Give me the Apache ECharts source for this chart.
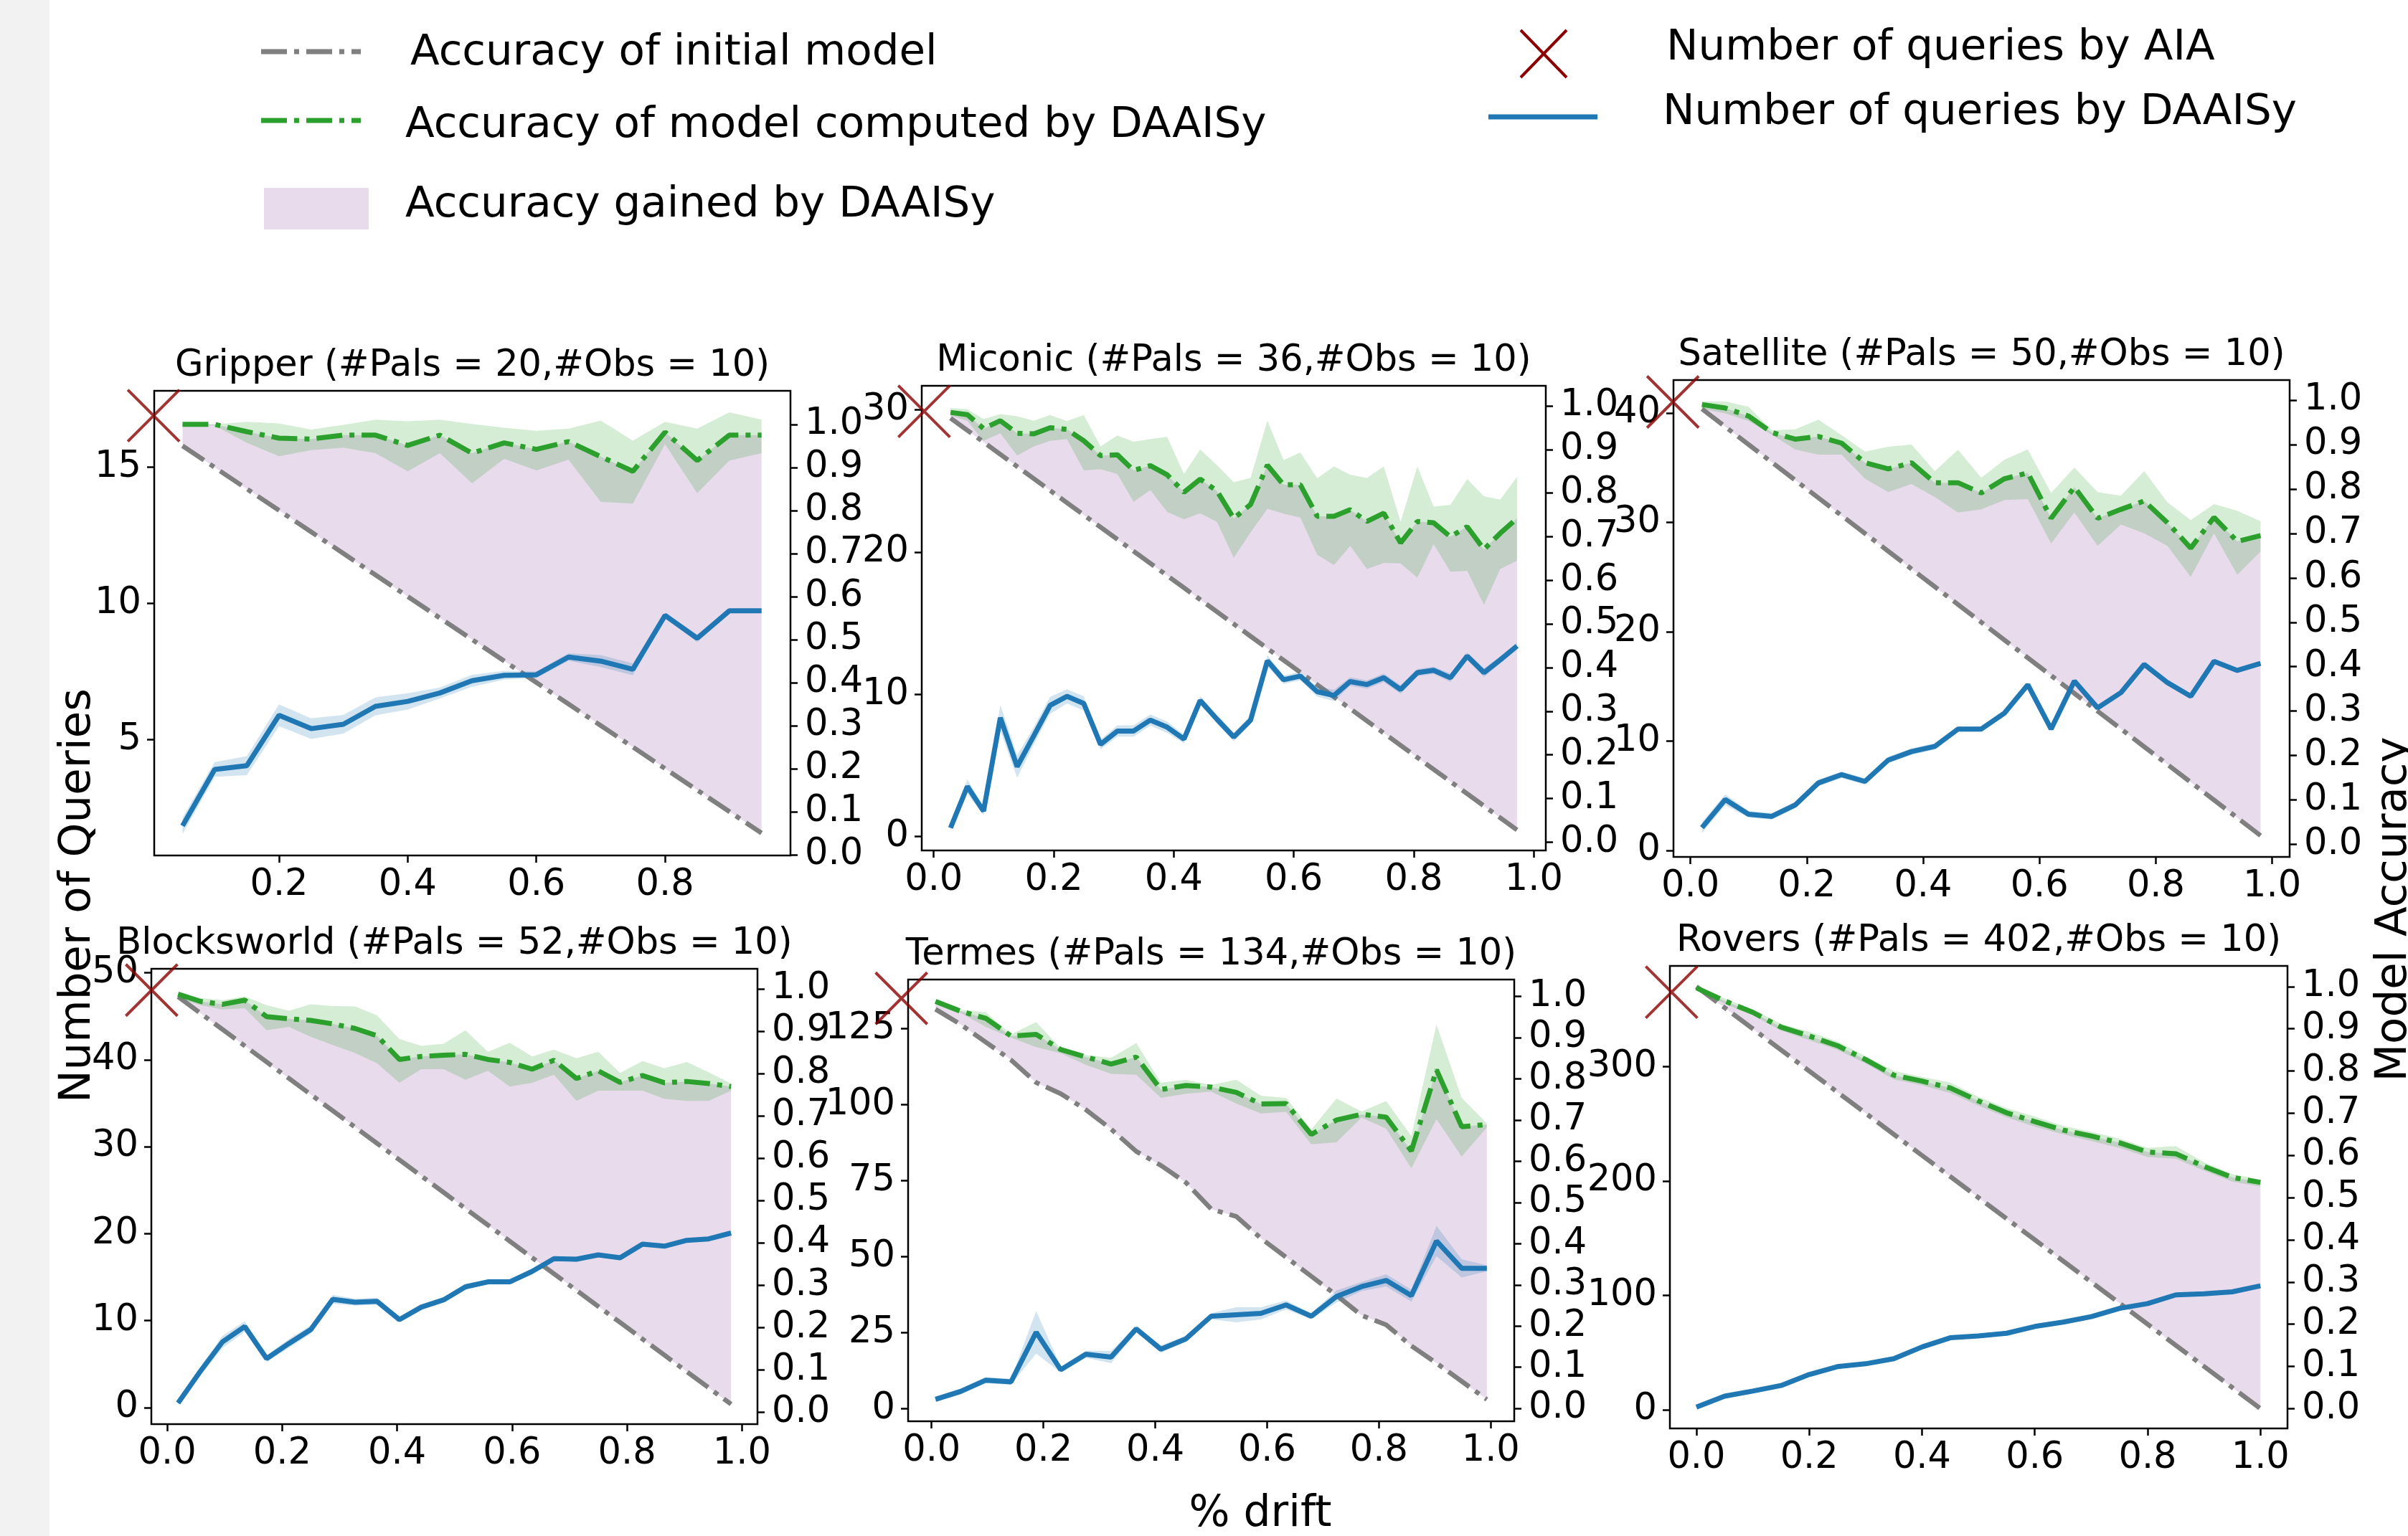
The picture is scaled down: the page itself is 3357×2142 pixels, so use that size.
<!DOCTYPE html>
<html>
<head>
<meta charset="utf-8">
<script src="https://cdn.jsdelivr.net/npm/echarts@6/dist/echarts.min.js"></script>
<style>
html, body { margin: 0; padding: 0; background: #fff; }
#chart { width: 3357px; height: 2142px; }
</style>
</head>
<body>
<div id="chart"></div>
<script>
// ---- data ----
// Gripper
var gripX = [0.05, 0.1, 0.15, 0.2, 0.25, 0.3, 0.35, 0.4, 0.45, 0.5, 0.55, 0.6, 0.65, 0.7, 0.75, 0.8, 0.85, 0.9, 0.95];
var gripInit = [0.95, 0.9, 0.85, 0.8, 0.75, 0.7, 0.65, 0.6, 0.55, 0.5, 0.45, 0.4, 0.35, 0.3, 0.25, 0.2, 0.15, 0.1, 0.05];
var gripAcc = [1.0, 1.0, 0.983, 0.968, 0.966, 0.975, 0.975, 0.951, 0.975, 0.933, 0.957, 0.942, 0.96, 0.925, 0.891, 0.982, 0.916, 0.975, 0.975];
var gripAccHi = [1.0, 1.0, 1.006, 1.002, 0.988, 0.999, 1.011, 1.007, 1.011, 1.001, 0.992, 0.985, 0.99, 1.009, 0.962, 1.006, 0.99, 1.028, 1.011];
var gripAccLo = [1.0, 0.997, 0.957, 0.926, 0.94, 0.946, 0.933, 0.891, 0.933, 0.863, 0.92, 0.893, 0.918, 0.82, 0.816, 0.954, 0.84, 0.916, 0.933];
var gripQ = [1.83, 3.9, 4.04, 5.89, 5.4, 5.56, 6.22, 6.4, 6.71, 7.16, 7.36, 7.38, 8.03, 7.88, 7.58, 9.56, 8.72, 9.73, 9.73];
var gripQErr = [0.3, 0.27, 0.35, 0.4, 0.38, 0.34, 0.33, 0.3, 0.2, 0.22, 0.16, 0.12, 0.14, 0.22, 0.22, 0.1, 0.14, 0.07, 0.07];

// Miconic
var micX = [0.028, 0.056, 0.083, 0.111, 0.139, 0.167, 0.194, 0.222, 0.25, 0.278, 0.306, 0.333, 0.361, 0.389, 0.417, 0.444, 0.472, 0.5, 0.528, 0.556, 0.583, 0.611, 0.639, 0.667, 0.694, 0.722, 0.75, 0.778, 0.806, 0.833, 0.861, 0.889, 0.917, 0.944, 0.972];
var micInit = [0.972, 0.944, 0.917, 0.889, 0.861, 0.833, 0.806, 0.778, 0.75, 0.722, 0.694, 0.667, 0.639, 0.611, 0.583, 0.556, 0.528, 0.5, 0.472, 0.444, 0.417, 0.389, 0.361, 0.333, 0.306, 0.278, 0.25, 0.222, 0.194, 0.167, 0.139, 0.111, 0.083, 0.056, 0.028];
var micAcc = [0.985, 0.98, 0.948, 0.966, 0.937, 0.936, 0.95, 0.946, 0.92, 0.886, 0.888, 0.852, 0.863, 0.842, 0.802, 0.832, 0.805, 0.742, 0.774, 0.864, 0.819, 0.819, 0.747, 0.747, 0.762, 0.735, 0.754, 0.686, 0.735, 0.732, 0.70, 0.723, 0.671, 0.708, 0.742];
var micAccHi = [0.995, 0.992, 0.97, 0.981, 0.976, 0.966, 0.979, 0.965, 0.979, 0.907, 0.932, 0.918, 0.924, 0.929, 0.844, 0.9, 0.864, 0.825, 0.835, 0.966, 0.876, 0.893, 0.834, 0.861, 0.842, 0.835, 0.861, 0.734, 0.861, 0.769, 0.773, 0.832, 0.793, 0.785, 0.837];
var micAccLo = [0.978, 0.966, 0.92, 0.937, 0.886, 0.907, 0.92, 0.924, 0.852, 0.855, 0.844, 0.78, 0.807, 0.757, 0.74, 0.754, 0.734, 0.652, 0.71, 0.764, 0.753, 0.744, 0.659, 0.635, 0.679, 0.626, 0.64, 0.639, 0.606, 0.683, 0.62, 0.622, 0.544, 0.626, 0.645];
var micQ = [0.61, 3.52, 1.79, 8.36, 4.92, 7.11, 9.23, 9.86, 9.36, 6.48, 7.42, 7.42, 8.19, 7.69, 6.86, 9.57, 8.25, 7.0, 8.19, 12.36, 11.03, 11.28, 10.19, 9.92, 10.9, 10.69, 11.17, 10.34, 11.53, 11.69, 11.17, 12.69, 11.53, 12.42, 13.4];
var micQErr = [0.2, 0.5, 0.3, 0.9, 0.8, 0.6, 0.6, 0.5, 0.5, 0.35, 0.4, 0.4, 0.4, 0.4, 0.3, 0.3, 0.3, 0.3, 0.3, 0.4, 0.3, 0.3, 0.35, 0.4, 0.3, 0.3, 0.3, 0.3, 0.25, 0.25, 0.3, 0.25, 0.3, 0.25, 0.25];

// Satellite
var satX = [0.02, 0.06, 0.1, 0.14, 0.18, 0.22, 0.26, 0.3, 0.34, 0.38, 0.42, 0.46, 0.5, 0.54, 0.58, 0.62, 0.66, 0.7, 0.74, 0.78, 0.82, 0.86, 0.9, 0.94, 0.98];
var satInit = [0.98, 0.94, 0.9, 0.86, 0.82, 0.78, 0.74, 0.7, 0.66, 0.62, 0.58, 0.54, 0.5, 0.46, 0.42, 0.38, 0.34, 0.3, 0.26, 0.22, 0.18, 0.14, 0.1, 0.06, 0.02];
var satAcc = [0.99, 0.982, 0.964, 0.927, 0.912, 0.918, 0.903, 0.859, 0.845, 0.859, 0.814, 0.814, 0.791, 0.823, 0.836, 0.734, 0.804, 0.734, 0.754, 0.773, 0.724, 0.667, 0.736, 0.682, 0.695];
var satAccHi = [0.997, 0.997, 0.985, 0.932, 0.934, 0.956, 0.921, 0.884, 0.895, 0.9, 0.84, 0.888, 0.825, 0.866, 0.889, 0.791, 0.848, 0.793, 0.785, 0.84, 0.77, 0.73, 0.766, 0.751, 0.727];
var satAccLo = [0.98, 0.97, 0.953, 0.922, 0.889, 0.877, 0.877, 0.823, 0.793, 0.811, 0.782, 0.747, 0.754, 0.775, 0.777, 0.677, 0.747, 0.672, 0.72, 0.7, 0.672, 0.602, 0.7, 0.607, 0.659];
var satQ = [2.08, 4.64, 3.3, 3.11, 4.14, 6.16, 6.92, 6.3, 8.25, 9.03, 9.5, 11.09, 11.09, 12.56, 15.14, 11.09, 15.48, 13.03, 14.42, 17.01, 15.34, 14.09, 17.28, 16.45, 17.09];
var satQErr = [0.5, 0.5, 0.3, 0.3, 0.3, 0.3, 0.3, 0.3, 0.3, 0.3, 0.3, 0.25, 0.25, 0.2, 0.15, 0.1, 0.15, 0.15, 0.2, 0.2, 0.2, 0.2, 0.15, 0.15, 0.15];

// Blocksworld
var bwX = [0.019, 0.058, 0.096, 0.135, 0.173, 0.212, 0.25, 0.288, 0.327, 0.365, 0.404, 0.442, 0.481, 0.519, 0.558, 0.596, 0.635, 0.673, 0.712, 0.75, 0.788, 0.827, 0.865, 0.904, 0.942, 0.981];
var bwInit = [0.981, 0.942, 0.904, 0.865, 0.827, 0.788, 0.75, 0.712, 0.673, 0.635, 0.596, 0.558, 0.519, 0.481, 0.442, 0.404, 0.365, 0.327, 0.288, 0.25, 0.212, 0.173, 0.135, 0.096, 0.058, 0.019];
var bwAcc = [0.987, 0.97, 0.963, 0.973, 0.934, 0.929, 0.925, 0.917, 0.906, 0.889, 0.833, 0.84, 0.843, 0.845, 0.833, 0.826, 0.81, 0.831, 0.788, 0.806, 0.779, 0.795, 0.778, 0.781, 0.776, 0.769];
var bwAccHi = [0.992, 0.978, 0.973, 0.982, 0.961, 0.948, 0.963, 0.959, 0.958, 0.937, 0.881, 0.865, 0.87, 0.902, 0.851, 0.872, 0.84, 0.856, 0.836, 0.851, 0.801, 0.829, 0.812, 0.827, 0.803, 0.776];
var bwAccLo = [0.978, 0.961, 0.951, 0.954, 0.902, 0.91, 0.886, 0.867, 0.848, 0.824, 0.778, 0.81, 0.81, 0.785, 0.806, 0.769, 0.778, 0.797, 0.735, 0.759, 0.759, 0.759, 0.74, 0.735, 0.735, 0.759];
var bwQ = [0.53, 4.2, 7.54, 9.32, 5.64, 7.38, 8.98, 12.45, 12.12, 12.22, 10.11, 11.55, 12.39, 13.89, 14.46, 14.46, 15.66, 17.13, 17.06, 17.56, 17.23, 18.8, 18.56, 19.23, 19.4, 20.07];
var bwQErr = [0.2, 0.5, 0.7, 0.6, 0.4, 0.5, 0.5, 0.5, 0.4, 0.4, 0.3, 0.3, 0.3, 0.3, 0.3, 0.3, 0.2, 0.2, 0.3, 0.2, 0.2, 0.2, 0.2, 0.2, 0.2, 0.2];

// Termes
var temX = [0.007, 0.052, 0.097, 0.142, 0.187, 0.231, 0.276, 0.321, 0.366, 0.41, 0.455, 0.5, 0.545, 0.589, 0.634, 0.679, 0.724, 0.769, 0.813, 0.858, 0.903, 0.948, 0.993];
var temInit = [0.969, 0.932, 0.889, 0.846, 0.791, 0.764, 0.725, 0.678, 0.624, 0.59, 0.548, 0.484, 0.466, 0.413, 0.367, 0.321, 0.275, 0.226, 0.203, 0.152, 0.11, 0.066, 0.022];
var temAcc = [0.988, 0.964, 0.947, 0.904, 0.908, 0.871, 0.853, 0.836, 0.853, 0.774, 0.784, 0.78, 0.767, 0.739, 0.74, 0.665, 0.7, 0.714, 0.707, 0.625, 0.822, 0.684, 0.689];
var temAccHi = [0.99, 0.967, 0.962, 0.908, 0.938, 0.874, 0.858, 0.851, 0.887, 0.791, 0.798, 0.785, 0.798, 0.759, 0.754, 0.677, 0.752, 0.721, 0.746, 0.661, 0.932, 0.754, 0.692];
var temAccLo = [0.986, 0.96, 0.926, 0.9, 0.877, 0.862, 0.834, 0.812, 0.81, 0.754, 0.764, 0.769, 0.74, 0.716, 0.72, 0.641, 0.646, 0.706, 0.679, 0.583, 0.702, 0.611, 0.682];
var temQ = [3.08, 5.67, 9.38, 8.82, 25.14, 12.81, 17.91, 16.98, 26.25, 19.58, 23.01, 30.42, 30.89, 31.35, 34.13, 30.42, 36.91, 40.16, 42.2, 37.2, 55.17, 46.18, 46.18];
var temQErr = [0.8, 1, 1, 1, 7, 1, 1.2, 2, 1, 1.2, 1, 1, 2.5, 2, 1.5, 1, 2, 1.5, 2, 2, 5, 3, 1];

// Rovers
var rovX = [0, 0.05, 0.1, 0.15, 0.2, 0.25, 0.3, 0.35, 0.4, 0.45, 0.5, 0.55, 0.6, 0.65, 0.7, 0.75, 0.8, 0.85, 0.9, 0.95, 1.0];
var rovInit = [1.0, 0.95, 0.9, 0.85, 0.8, 0.75, 0.7, 0.65, 0.6, 0.55, 0.5, 0.45, 0.4, 0.35, 0.3, 0.25, 0.2, 0.15, 0.1, 0.05, 0.0];
var rovAcc = [0.997, 0.966, 0.939, 0.904, 0.883, 0.86, 0.827, 0.79, 0.776, 0.76, 0.729, 0.701, 0.68, 0.66, 0.646, 0.63, 0.608, 0.604, 0.574, 0.548, 0.536];
var rovAccHi = [1.0, 0.972, 0.946, 0.912, 0.893, 0.87, 0.835, 0.8, 0.786, 0.773, 0.739, 0.712, 0.692, 0.67, 0.656, 0.64, 0.618, 0.622, 0.584, 0.556, 0.542];
var rovAccLo = [0.994, 0.96, 0.932, 0.896, 0.873, 0.85, 0.818, 0.78, 0.766, 0.748, 0.718, 0.69, 0.668, 0.65, 0.634, 0.618, 0.596, 0.592, 0.564, 0.538, 0.526];
var rovQ = [2.4, 12.0, 16.5, 21.3, 30.9, 37.8, 40.3, 44.7, 55.0, 63.0, 64.6, 67.0, 72.9, 76.7, 81.5, 88.7, 92.9, 100.5, 101.5, 103.2, 108.4];
var rovQErr = [1, 1, 1, 1, 1, 1, 1, 1, 1, 1, 1, 1, 1, 1, 1, 1, 1, 1, 1, 1, 1];

// queries needed by AIA (one per domain)
var aiaQueries = [16.9, 29.9, 41, 48, 135, 365];

// tick labels
var accTicks = [0, 0.1, 0.2, 0.3, 0.4, 0.5, 0.6, 0.7, 0.8, 0.9, 1.0];
var driftTicks = [0, 0.2, 0.4, 0.6, 0.8, 1.0];
var gripDriftTicks = [0.2, 0.4, 0.6, 0.8];

// ---- layout ----
var panels = [
  { title: 'Gripper (#Pals = 20,#Obs = 10)', x: gripX, init: gripInit, acc: gripAcc, hi: gripAccHi, lo: gripAccLo, q: gripQ, err: gripQErr,
    box: [215, 545, 887, 648], xr: [0.006, 0.995], lr: [0.74, 17.81], rr: [-0.002, 1.078], xt: gripDriftTicks, lt: [5, 10, 15], aiaX: 0.005 },
  { title: 'Miconic (#Pals = 36,#Obs = 10)', x: micX, init: micInit, acc: micAcc, hi: micAccHi, lo: micAccLo, q: micQ, err: micQErr,
    box: [1285, 538, 870, 648], xr: [-0.02, 1.02], lr: [-0.98, 31.7], rr: [-0.019, 1.046], xt: driftTicks, lt: [0, 10, 20, 30], aiaX: -0.016 },
  { title: 'Satellite (#Pals = 50,#Obs = 10)', x: satX, init: satInit, acc: satAcc, hi: satAccHi, lo: satAccLo, q: satQ, err: satQErr,
    box: [2333, 530, 859, 665], xr: [-0.029, 1.03], lr: [-0.6, 43.0], rr: [-0.028, 1.045], xt: driftTicks, lt: [0, 10, 20, 30, 40], aiaX: -0.03 },
  { title: 'Blocksworld (#Pals = 52,#Obs = 10)', x: bwX, init: bwInit, acc: bwAcc, hi: bwAccHi, lo: bwAccLo, q: bwQ, err: bwQErr,
    box: [211, 1351, 845, 635], xr: [-0.0275, 1.027], lr: [-1.9, 50.45], rr: [-0.028, 1.047], xt: driftTicks, lt: [0, 10, 20, 30, 40, 50], aiaX: -0.027 },
  { title: 'Termes (#Pals = 134,#Obs = 10)', x: temX, init: temInit, acc: temAcc, hi: temAccHi, lo: temAccLo, q: temQ, err: temQErr,
    box: [1266, 1366, 845, 616], xr: [-0.042, 1.042], lr: [-4.15, 141.2], rr: [-0.031, 1.041], xt: driftTicks, lt: [0, 25, 50, 75, 100, 125], aiaX: -0.054 },
  { title: 'Rovers (#Pals = 402,#Obs = 10)', x: rovX, init: rovInit, acc: rovAcc, hi: rovAccHi, lo: rovAccLo, q: rovQ, err: rovQErr,
    box: [2328, 1347, 861, 645], xr: [-0.047, 1.048], lr: [-16.2, 388], rr: [-0.047, 1.049], xt: driftTicks, lt: [0, 100, 200, 300], aiaX: -0.044 }
];

var FONT = 'DejaVu Sans';
var GRAY = '#7f7f7f', GREEN = '#2ca02c', BLUE = '#1f77b4', RED = '#8b0000';
var PURPLE_FILL = 'rgba(165,110,180,0.25)';
var GREEN_FILL = 'rgba(44,160,44,0.2)';
var BLUE_FILL = 'rgba(31,119,180,0.2)';
var DASHDOT = [36, 10, 7, 10];

function fmt1(v) { return v.toFixed(1); }
function fmt0(v) { return String(Math.round(v)); }

// filled band between two curves, drawn as one polygon through the axis scales
function band(gridIdx, yIdx, xs, lo, hi, fill, z) {
  var rows = xs.map(function (x, j) { return [x, lo[j], hi[j]]; });
  return {
    type: 'custom', xAxisIndex: gridIdx, yAxisIndex: yIdx, data: rows, z: z, silent: true, animation: false,
    encode: { x: 0, y: [1, 2] },
    renderItem: function (params, api) {
      if (params.dataIndex !== 0) return null;
      var top = [], bottom = [];
      rows.forEach(function (r) {
        top.push(api.coord([r[0], r[2]]));
        bottom.push(api.coord([r[0], r[1]]));
      });
      return { type: 'polygon', shape: { points: top.concat(bottom.reverse()) }, style: { fill: fill } };
    }
  };
}

var grids = [], xAxes = [], yAxes = [], series = [], texts = [];

panels.forEach(function (p, i) {
  var b = p.box;
  grids.push({ left: b[0], top: b[1], width: b[2], height: b[3], show: true, borderColor: '#000', borderWidth: 2.5, backgroundColor: 'transparent' });

  var tickStyle = { show: true, inside: false, length: 10, lineStyle: { color: '#000', width: 2.5 } };
  var labelStyle = { fontSize: 51, fontFamily: FONT, color: '#000' };

  xAxes.push({
    type: 'value', gridIndex: i, min: p.xr[0], max: p.xr[1],
    axisLine: { show: false, onZero: false },
    axisTick: Object.assign({ customValues: p.xt }, tickStyle),
    axisLabel: Object.assign({ customValues: p.xt, formatter: fmt1, margin: 16 }, labelStyle),
    splitLine: { show: false }
  });
  yAxes.push({
    type: 'value', gridIndex: i, position: 'left', min: p.lr[0], max: p.lr[1],
    axisLine: { show: false, onZero: false },
    axisTick: Object.assign({ customValues: p.lt }, tickStyle),
    axisLabel: Object.assign({ customValues: p.lt, formatter: fmt0, margin: 18 }, labelStyle),
    splitLine: { show: false }
  });
  yAxes.push({
    type: 'value', gridIndex: i, position: 'right', min: p.rr[0], max: p.rr[1],
    axisLine: { show: false, onZero: false },
    axisTick: Object.assign({ customValues: accTicks }, tickStyle),
    axisLabel: Object.assign({ customValues: accTicks, formatter: fmt1, margin: 20 }, labelStyle),
    splitLine: { show: false }
  });

  var yl = 2 * i, yr = 2 * i + 1;
  function pairs(ys) { return p.x.map(function (x, j) { return [x, ys[j]]; }); }
  var qLo = p.q.map(function (v, j) { return +(v - p.err[j]).toFixed(4); });
  var qHi = p.q.map(function (v, j) { return +(v + p.err[j]).toFixed(4); });
  var common = { type: 'line', xAxisIndex: i, symbol: 'none', silent: true, animation: false };

  // accuracy gained by DAAISy: between initial accuracy and DAAISy accuracy
  series.push(band(i, yr, p.x, p.init, p.acc, PURPLE_FILL, 1));
  // initial model accuracy
  series.push(Object.assign({}, common, { yAxisIndex: yr, data: pairs(p.init), lineStyle: { color: GRAY, width: 6.5, type: DASHDOT }, z: 2 }));
  // DAAISy accuracy band + mean
  series.push(band(i, yr, p.x, p.lo, p.hi, GREEN_FILL, 3));
  series.push(Object.assign({}, common, { yAxisIndex: yr, data: pairs(p.acc), lineStyle: { color: GREEN, width: 7, type: DASHDOT }, z: 4 }));
  // DAAISy queries band + mean
  series.push(band(i, yl, p.x, qLo, qHi, BLUE_FILL, 5));
  series.push(Object.assign({}, common, { yAxisIndex: yl, data: pairs(p.q), lineStyle: { color: BLUE, width: 7 }, z: 6 }));
  // AIA queries marker
  series.push({
    type: 'scatter', xAxisIndex: i, yAxisIndex: yl, data: [[p.aiaX, aiaQueries[i]]], clip: false, silent: true, animation: false,
    symbol: 'path://M0,0L10,10M10,0L0,10', symbolSize: 72,
    itemStyle: { color: 'transparent', borderColor: RED, borderWidth: 4 }, z: 10
  });

  texts.push({ type: 'text', x: b[0] + b[2] / 2, y: b[1] - 34, z: 20,
    style: { text: p.title, fontSize: 51, fontFamily: FONT, fill: '#000', align: 'center', verticalAlign: 'middle' } });
});

var LEG = 59.5;
var graphics = [
  { type: 'rect', shape: { x: 0, y: 0, width: 69, height: 2142 }, style: { fill: '#f2f2f2' }, z: 0 },
  // legend samples
  { type: 'line', shape: { x1: 364, y1: 72, x2: 503, y2: 72 }, style: { stroke: GRAY, lineWidth: 7, lineDash: [36, 10, 7, 10] } },
  { type: 'line', shape: { x1: 364, y1: 168, x2: 503, y2: 168 }, style: { stroke: GREEN, lineWidth: 7, lineDash: [36, 10, 7, 10] } },
  { type: 'rect', shape: { x: 368, y: 262, width: 146, height: 58 }, style: { fill: PURPLE_FILL } },
  { type: 'line', shape: { x1: 2120, y1: 42, x2: 2184, y2: 108 }, style: { stroke: RED, lineWidth: 4 } },
  { type: 'line', shape: { x1: 2184, y1: 42, x2: 2120, y2: 108 }, style: { stroke: RED, lineWidth: 4 } },
  { type: 'line', shape: { x1: 2075, y1: 163, x2: 2227, y2: 163 }, style: { stroke: BLUE, lineWidth: 7 } },
  // legend labels
  { type: 'text', x: 572, y: 75, style: { text: 'Accuracy of initial model', fontSize: LEG, fontFamily: FONT, fill: '#000', verticalAlign: 'middle' } },
  { type: 'text', x: 565, y: 176, style: { text: 'Accuracy of model computed by DAAISy', fontSize: LEG, fontFamily: FONT, fill: '#000', verticalAlign: 'middle' } },
  { type: 'text', x: 565, y: 287, style: { text: 'Accuracy gained by DAAISy', fontSize: LEG, fontFamily: FONT, fill: '#000', verticalAlign: 'middle' } },
  { type: 'text', x: 2323, y: 68, style: { text: 'Number of queries by AIA', fontSize: LEG, fontFamily: FONT, fill: '#000', verticalAlign: 'middle' } },
  { type: 'text', x: 2318, y: 158, style: { text: 'Number of queries by DAAISy', fontSize: LEG, fontFamily: FONT, fill: '#000', verticalAlign: 'middle' } },
  // axis names
  { type: 'text', x: 109, y: 1249, rotation: Math.PI / 2, z: 20, style: { text: 'Number of Queries', fontSize: 61, fontFamily: FONT, fill: '#000', align: 'center', verticalAlign: 'middle' } },
  { type: 'text', x: 3338, y: 1268, rotation: Math.PI / 2, z: 20, style: { text: 'Model Accuracy', fontSize: 61, fontFamily: FONT, fill: '#000', align: 'center', verticalAlign: 'middle' } },
  { type: 'text', x: 1757, y: 2112, style: { text: '% drift', fontSize: 60, fontFamily: FONT, fill: '#000', align: 'center', verticalAlign: 'middle' } }
].concat(texts);

var chart = echarts.init(document.getElementById('chart'), null, { renderer: 'canvas' });
chart.setOption({
  backgroundColor: '#fff',
  animation: false,
  grid: grids,
  xAxis: xAxes,
  yAxis: yAxes,
  series: series,
  graphic: graphics
});
window.addEventListener('resize', function () { chart.resize(); });
</script>
</body>
</html>
